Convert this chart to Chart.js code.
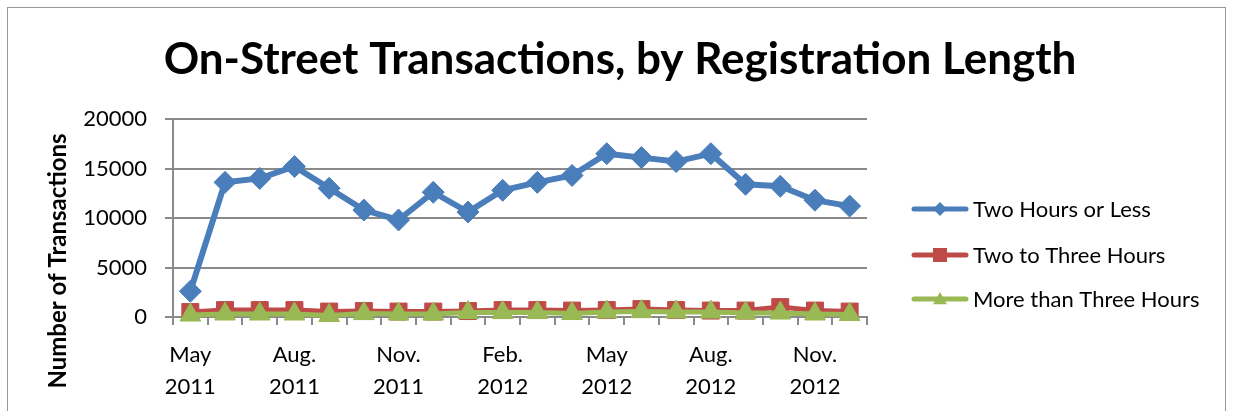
<!DOCTYPE html>
<html>
<head>
<meta charset="utf-8">
<script src="https://cdn.jsdelivr.net/npm/chart.js@4"></script>
<style>
  html, body { margin: 0; padding: 0; background: #fff; }
  #wrap { width: 1233px; height: 411px; }
</style>
</head>
<body>
<div id="wrap"><canvas id="lineChart" width="1233" height="411"></canvas></div>
<script>
// months from May 2011 to Dec 2012
const months = ["May", "Jun.", "Jul.", "Aug.", "Sep.", "Oct.", "Nov.", "Dec.", "Jan.", "Feb.",
  "Mar.", "Apr.", "May", "Jun.", "Jul.", "Aug.", "Sep.", "Oct.", "Nov.", "Dec."];
const years = ["2011", "2011", "2011", "2011", "2011", "2011", "2011", "2011", "2012", "2012",
  "2012", "2012", "2012", "2012", "2012", "2012", "2012", "2012", "2012", "2012"];
const twoHoursOrLess = [2600, 13600, 14000, 15200, 13000, 10800, 9800, 12600, 10600, 12800,
  13600, 14300, 16500, 16100, 15700, 16500, 13400, 13200, 11800, 11200];
const twoToThree = [500, 700, 700, 700, 550, 600, 550, 550, 600, 700,
  700, 650, 700, 800, 700, 650, 650, 1000, 650, 550];
const moreThanThree = [200, 300, 300, 300, 150, 350, 300, 300, 450, 450,
  450, 350, 500, 550, 500, 500, 400, 400, 300, 250];
const yTicks = [0, 5000, 10000, 15000, 20000];

const labels = months.map((m, i) => [m, years[i]]);
const titleText = "On-Street Transactions, by Registration Length";
const yTitleText = "Number of Transactions";
const gridColor = "#8a8a8a";

// outer frame, chart title and axis title placed like the Excel original
const framePlugin = {
  id: "frame",
  beforeDraw(chart) {
    const c = chart.ctx;
    c.save();
    c.strokeStyle = "#9a9a9a";
    c.lineWidth = 1;
    c.strokeRect(7.5, 7.5, 1218, 430);
    c.fillStyle = "#000";
    c.textAlign = "center";
    c.textBaseline = "alphabetic";
    c.font = "bold 44px Lato";
    c.fillText(titleText, 620, 74);
    c.translate(66, 261);
    c.rotate(-Math.PI / 2);
    c.font = "bold 24px Lato";
    c.fillText(yTitleText, 0, 0);
    c.restore();
  },
};

function marker(c, style, x, y, r) {
  c.beginPath();
  if (style === "rectRot") {
    c.moveTo(x, y - r); c.lineTo(x + r, y); c.lineTo(x, y + r); c.lineTo(x - r, y);
  } else if (style === "rect") {
    c.rect(x - r, y - r, 2 * r, 2 * r);
  } else {
    c.moveTo(x, y - r); c.lineTo(x + r, y + r * 0.75); c.lineTo(x - r, y + r * 0.75);
  }
  c.closePath();
  c.fill();
}

// Excel-style legend: line sample with marker
const legendPlugin = {
  id: "sideLegend",
  afterDraw(chart) {
    const c = chart.ctx;
    const rows = [209, 255, 299];
    c.save();
    chart.data.datasets.forEach((ds, i) => {
      const y = rows[i];
      c.strokeStyle = ds.borderColor;
      c.lineWidth = 5;
      c.lineCap = "round";
      c.beginPath();
      c.moveTo(914, y);
      c.lineTo(966, y);
      c.stroke();
      c.fillStyle = ds.borderColor;
      marker(c, ds.pointStyle, 940, y, 7);
      c.fillStyle = "#000";
      c.font = "22px Lato";
      c.textBaseline = "middle";
      c.fillText(ds.label, 973, y + 1);
    });
    c.restore();
  },
};

const ctx = document.getElementById("lineChart").getContext("2d");
const lineChart = new Chart(ctx, {
  type: "line",
  data: {
    labels: labels,
    datasets: [
      {
        label: "Two Hours or Less",
        data: twoHoursOrLess,
        borderColor: "#4A7EBB",
        backgroundColor: "#4A7EBB",
        borderWidth: 6,
        pointStyle: "rectRot",
        pointRadius: 11,
        pointBorderWidth: 1,
        clip: false,
        order: 2,
      },
      {
        label: "Two to Three Hours",
        data: twoToThree,
        borderColor: "#BE4B48",
        backgroundColor: "#BE4B48",
        borderWidth: 5,
        pointStyle: "rect",
        pointRadius: 12,
        pointBorderWidth: 1,
        clip: false,
        order: 1,
      },
      {
        label: "More than Three Hours",
        data: moreThanThree,
        borderColor: "#98B954",
        backgroundColor: "#98B954",
        borderWidth: 5,
        pointStyle: "triangle",
        pointRadius: 12,
        pointBorderWidth: 1,
        clip: false,
        order: 0,
      },
    ],
  },
  options: {
    responsive: false,
    animation: false,
    layout: { padding: { left: 40, right: 366, top: 119, bottom: 0 } },
    plugins: {
      legend: { display: false },
      tooltip: { enabled: false },
      title: { display: false },
    },
    scales: {
      x: {
        offset: true,
        afterFit(scale) { scale.height = 94; },
        grid: {
          offset: true,
          drawOnChartArea: false,
          drawTicks: true,
          tickLength: 8,
          color: gridColor,
          lineWidth: 2,
        },
        border: { color: gridColor, width: 2 },
        ticks: {
          autoSkip: false,
          maxRotation: 0,
          color: "#000",
          padding: 14,
          font: { family: "Lato", size: 22, lineHeight: 1.45 },
          callback: function (value, index) {
            return index % 3 === 0 ? labels[index] : "";
          },
        },
      },
      y: {
        min: 0,
        max: 20000,
        afterFit(scale) { scale.width = 133; },
        afterBuildTicks(scale) { scale.ticks = yTicks.map((v) => ({ value: v })); },
        grid: { color: gridColor, lineWidth: 2, tickLength: 8 },
        border: { color: gridColor, width: 2 },
        ticks: {
          color: "#000",
          padding: 18,
          font: { family: "Lato", size: 22 },
          callback: (v) => String(v),
        },
      },
    },
  },
  plugins: [framePlugin, legendPlugin],
});
</script>
</body>
</html>
